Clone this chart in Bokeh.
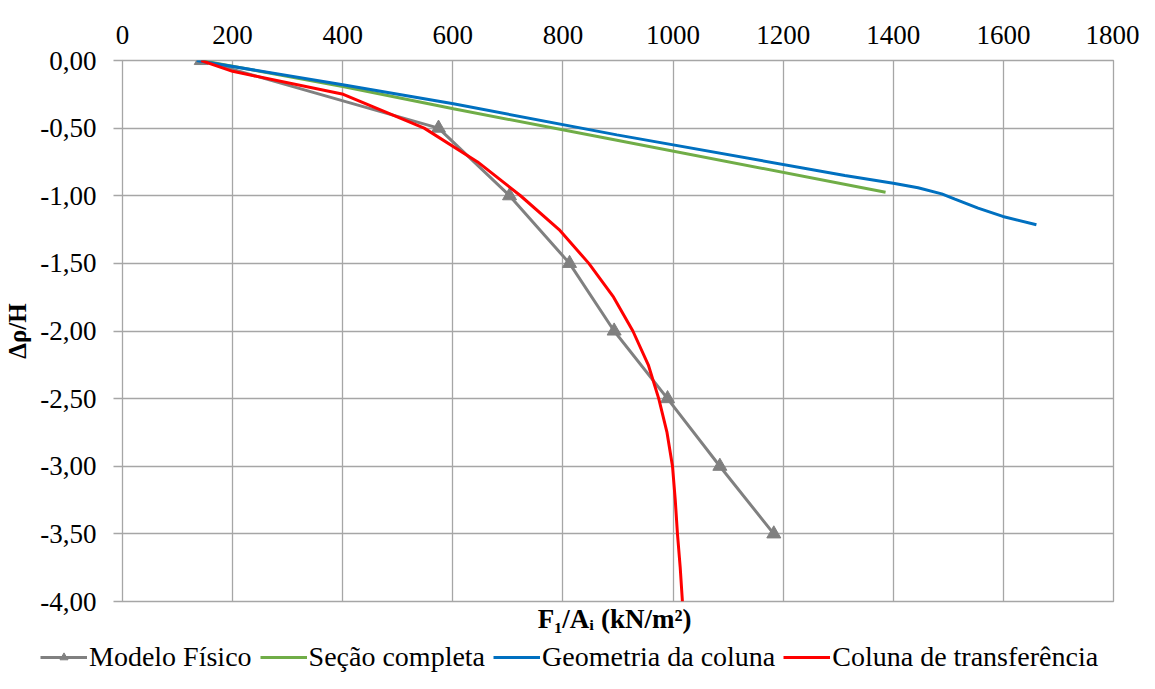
from bokeh.plotting import figure
from bokeh.layouts import column
from bokeh.models import (Range1d, FixedTicker, CustomJSTickFormatter, Legend,
                          LegendItem, Title)
from bokeh.embed import file_html
from bokeh.resources import INLINE

# ---- data ----
modelo_x = [143, 574, 703, 812, 893, 990, 1085, 1183]
modelo_y = [0.0, -0.5, -1.0, -1.5, -2.0, -2.5, -3.0, -3.5]

secao_x = [143, 400, 601, 898, 1386]
secao_y = [0.0, -0.192, -0.357, -0.59, -0.974]

geom_x = [135, 400, 601, 898, 1312, 1400, 1445, 1488, 1512, 1554, 1599, 1660]
geom_y = [0.0, -0.18, -0.32, -0.55, -0.85, -0.907, -0.941, -0.986, -1.025, -1.092, -1.153, -1.215]

transf_x = [143, 200, 401, 548, 645, 723, 793, 847, 892, 927, 955, 974, 989, 999, 1004, 1008, 1013, 1017]
transf_y = [0.0, -0.08, -0.25, -0.5, -0.75, -1.0, -1.25, -1.5, -1.75, -2.0, -2.25, -2.5,
            -2.75, -3.0, -3.25, -3.5, -3.75, -4.0]

x_ticks = [0, 200, 400, 600, 800, 1000, 1200, 1400, 1600, 1800]
y_ticks = [0.0, -0.5, -1.0, -1.5, -2.0, -2.5, -3.0, -3.5, -4.0]

series_names = ["Modelo Físico", "Seção completa", "Geometria da coluna", "Coluna de transferência"]
colors = ["#808080", "#70ad47", "#0070c0", "#ff0000"]
x_title = "F₁/Aᵢ  (kN/m²)"
y_title = "Δρ/H"

FONT = "Liberation Serif"
GRID = "#a6a6a6"
W = 1139

# ---------------- main chart ----------------
p = figure(width=W, height=640, output_backend="svg", toolbar_location=None,
           x_range=Range1d(0, 1800), y_range=Range1d(-4, 0), x_axis_location="above",
           min_border_left=122, min_border_right=26, min_border_top=60, min_border_bottom=39)
p.frame_align = False
p.outline_line_color = GRID
p.outline_line_width = 1.3
p.background_fill_color = "white"
p.border_fill_color = "white"

p.xaxis.ticker = FixedTicker(ticks=x_ticks)
p.yaxis.ticker = FixedTicker(ticks=y_ticks)
p.yaxis.formatter = CustomJSTickFormatter(code="return tick.toFixed(2).replace('.', ',');")
for ax in (p.xaxis[0], p.yaxis[0]):
    ax.axis_line_color = None
    ax.minor_tick_line_color = None
    ax.major_label_text_font = FONT
    ax.major_label_text_font_size = "27px"
    ax.major_label_text_color = "black"
p.xaxis.major_tick_in = 0
p.xaxis.major_tick_out = 0
p.xaxis.major_label_standoff = 17
p.yaxis.major_tick_in = 0
p.yaxis.major_tick_out = 9
p.yaxis.major_tick_line_color = GRID
p.yaxis.major_tick_line_width = 1.3
p.yaxis.major_label_standoff = 17
p.yaxis.axis_label = y_title
p.yaxis.axis_label_text_font = FONT
p.yaxis.axis_label_text_font_style = "bold"
p.yaxis.axis_label_text_font_size = "25px"
p.yaxis.axis_label_text_color = "black"
p.yaxis.axis_label_standoff = 6

p.xgrid.grid_line_color = GRID
p.xgrid.grid_line_width = 1.3
p.ygrid.grid_line_color = GRID
p.ygrid.grid_line_width = 1.3

p.line(modelo_x, modelo_y, line_color=colors[0], line_width=3)
p.scatter(modelo_x, modelo_y, marker="triangle", size=14,
          fill_color=colors[0], line_color=colors[0])
p.line(secao_x, secao_y, line_color=colors[1], line_width=3)
p.line(geom_x, geom_y, line_color=colors[2], line_width=3)
p.line(transf_x, transf_y, line_color=colors[3], line_width=3)

# x-axis title under the plot area
p.add_layout(Title(text=x_title, align="center", offset=3, text_font=FONT,
                   text_font_style="bold", text_font_size="27px", text_color="black",
                   standoff=0), "below")

# ---------------- legend strip ----------------
p2 = figure(width=W, height=33, output_backend="svg", toolbar_location=None,
            x_range=Range1d(0, W), y_range=Range1d(673, 640),
            x_axis_location=None, y_axis_location=None,
            min_border_left=0, min_border_right=0, min_border_top=0, min_border_bottom=0)
p2.frame_align = False
p2.outline_line_color = None
p2.xgrid.visible = False
p2.ygrid.visible = False

# legend swatches: the same series, styled alike (their data lie outside this strip's view)
r_mod_l = p2.line(modelo_x, modelo_y, line_color=colors[0], line_width=3)
r_mod_s = p2.scatter(modelo_x, modelo_y, marker="triangle", size=14,
                     fill_color=colors[0], line_color=colors[0])
r_sec = p2.line(secao_x, secao_y, line_color=colors[1], line_width=3)
r_geo = p2.line(geom_x, geom_y, line_color=colors[2], line_width=3)
r_tra = p2.line(transf_x, transf_y, line_color=colors[3], line_width=3)

legend = Legend(items=[
    LegendItem(label=series_names[0], renderers=[r_mod_l, r_mod_s]),
    LegendItem(label=series_names[1], renderers=[r_sec]),
    LegendItem(label=series_names[2], renderers=[r_geo]),
    LegendItem(label=series_names[3], renderers=[r_tra]),
], orientation="horizontal", location=(40, 0), border_line_color=None,
   background_fill_alpha=0, padding=0, margin=0, spacing=8, glyph_width=47,
   glyph_height=20, label_height=20, label_standoff=2, label_text_font=FONT,
   label_text_font_size="28px", label_text_color="black")
p2.add_layout(legend)

layout = column(p, p2, spacing=0)
open("out.html", "w").write(file_html(layout, INLINE))
